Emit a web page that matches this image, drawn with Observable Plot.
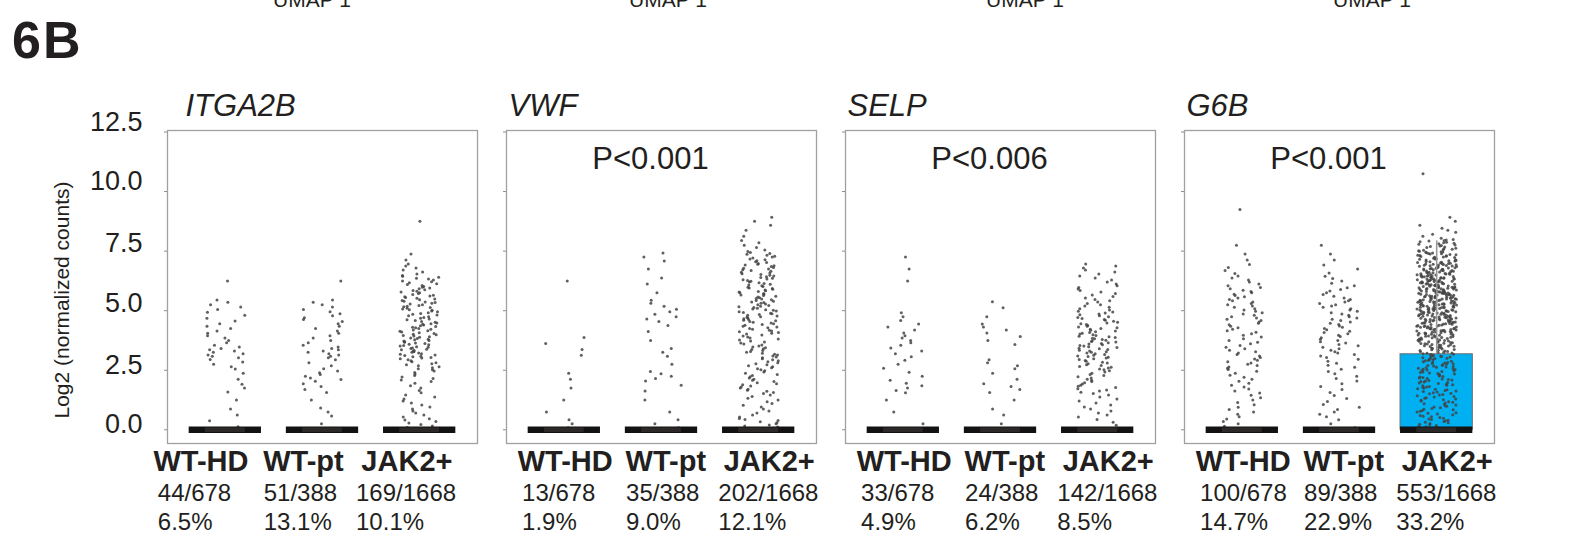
<!DOCTYPE html>
<html>
<head>
<meta charset="utf-8">
<script src="https://cdn.jsdelivr.net/npm/d3@7"></script>
<script src="https://cdn.jsdelivr.net/npm/@observablehq/plot@0.6"></script>
<style>
  html, body { margin: 0; padding: 0; background: #fff; }
  body { font-family: "Liberation Sans", Arial, Helvetica, sans-serif; color: #231f20; }
  #wrap { position: relative; width: 1585px; height: 536px; overflow: hidden; }
  #head { position: relative; width: 1585px; height: 80px; }
  .umap { position: absolute; top: -11px; font-size: 21px; line-height: 1; white-space: nowrap; }
  #panel { position: absolute; left: 12px; top: 14px; font-size: 52px; line-height: 1; font-weight: bold; letter-spacing: 2px; }
  #chart svg { display: block; }
</style>
</head>
<body>
<div id="wrap">
  <div id="head">
    <div class="umap" style="left:273px">UMAP 1</div>
    <div class="umap" style="left:629px">UMAP 1</div>
    <div class="umap" style="left:986px">UMAP 1</div>
    <div class="umap" style="left:1333px">UMAP 1</div>
    <div id="panel">6B</div>
  </div>
  <div id="chart"></div>
</div>
<script>
// ---------------- data ----------------
const genes = ["ITGA2B", "VWF", "SELP", "G6B"];
const groups = ["WT-HD", "WT-pt", "JAK2+"];
const pValues = ["", "P<0.001", "P<0.006", "P<0.001"];
const groupTotals = [678, 388, 1668];

const positiveITGA2B = [44, 51, 169];
const positiveVWF = [13, 35, 202];
const positiveSELP = [33, 24, 142];
const positiveG6B = [100, 89, 553];

const percentITGA2B = ["6.5%", "13.1%", "10.1%"];
const percentVWF = ["1.9%", "9.0%", "12.1%"];
const percentSELP = ["4.9%", "6.2%", "8.5%"];
const percentG6B = ["14.7%", "22.9%", "33.2%"];

const yTicks = [0, 2.5, 5, 7.5, 10, 12.5];

// counts of positive cells per 0.5 log2-unit bin, starting at 0
const binWidth = 0.5;
const binsITGA2B_WTHD = [2, 2, 1, 3, 2, 5, 9, 5, 5, 4, 5, 0, 1];
const binsITGA2B_WTpt = [1, 3, 1, 4, 7, 4, 9, 5, 5, 6, 5, 0, 1];
const binsITGA2B_JAK2 = [8, 6, 6, 5, 8, 12, 19, 19, 17, 15, 17, 15, 13, 6, 2, 0, 0, 1];
const binsVWF_WTHD = [3, 1, 1, 1, 2, 0, 2, 2, 0, 0, 0, 0, 1];
const binsVWF_WTpt = [3, 1, 1, 2, 5, 1, 3, 1, 2, 5, 4, 1, 2, 1, 3];
const binsVWF_JAK2 = [11, 6, 7, 11, 10, 12, 13, 12, 15, 17, 17, 17, 16, 15, 13, 5, 2, 3];
const binsSELP_WTHD = [1, 1, 1, 5, 3, 3, 4, 5, 4, 3, 0, 0, 1, 1, 1];
const binsSELP_WTpt = [1, 2, 1, 4, 2, 4, 0, 3, 4, 1, 2];
const binsSELP_JAK2 = [4, 6, 6, 10, 10, 14, 17, 18, 15, 13, 9, 8, 6, 6];
const binsG6B_WTHD = [5, 5, 5, 6, 6, 9, 8, 7, 8, 9, 9, 9, 6, 4, 2, 1, 0, 0, 1];
const binsG6B_WTpt = [3, 5, 4, 4, 5, 6, 8, 9, 9, 9, 9, 7, 5, 3, 2, 1];
const binsG6B_JAK2 = [18, 17, 18, 21, 24, 27, 30, 38, 44, 48, 52, 54, 51, 45, 34, 22, 6, 3, 0, 0, 0, 1];

// box plot statistics (rows follow genes, columns follow groups)
const boxMedian = [[0, 0, 0], [0, 0, 0], [0, 0, 0], [0, 0, 0]];
const boxQ1 = [[0, 0, 0], [0, 0, 0], [0, 0, 0], [0, 0, 0]];
const boxQ3 = [[0, 0, 0], [0, 0, 0], [0, 0, 0], [0, 0, 3.17]];
const boxUpperWhisker = [[0, 0, 0], [0, 0, 0], [0, 0, 0], [0, 0, 7.93]];

// ---------------- assembly ----------------
const binsByGene = [
  [binsITGA2B_WTHD, binsITGA2B_WTpt, binsITGA2B_JAK2],
  [binsVWF_WTHD, binsVWF_WTpt, binsVWF_JAK2],
  [binsSELP_WTHD, binsSELP_WTpt, binsSELP_JAK2],
  [binsG6B_WTHD, binsG6B_WTpt, binsG6B_JAK2]
];
const positivesByGene = [positiveITGA2B, positiveVWF, positiveSELP, positiveG6B];
const percentsByGene = [percentITGA2B, percentVWF, percentSELP, percentG6B];

// deterministic horizontal jitter (layout only)
function jitter(i) {
  const s = Math.sin(i * 127.1 + 311.7) * 43758.5453;
  return (s - Math.floor(s)) * 2 - 1;
}
const JIT = 0.205;

const points = [];
let counter = 0;
genes.forEach((gene, gi) => {
  groups.forEach((group, k) => {
    binsByGene[gi][k].forEach((c, b) => {
      for (let j = 0; j < c; j++) {
        points.push({ gene, group, k, y: b * binWidth + (j + 0.5) / c * binWidth, jx: jitter(counter++) });
      }
    });
  });
});

const boxes = [];
const labels = [];
genes.forEach((gene, gi) => {
  groups.forEach((group, k) => {
    boxes.push({ gene, k, median: boxMedian[gi][k], q1: boxQ1[gi][k], q3: boxQ3[gi][k], hi: boxUpperWhisker[gi][k] });
    labels.push({ gene, k, group, frac: `${positivesByGene[gi][k]}/${groupTotals[k]}`, pct: percentsByGene[gi][k] });
  });
});
const pData = genes.map((gene, gi) => ({ gene, p: pValues[gi] })).filter(d => d.p);

// layout constants (pixels converted to x units, ~97.5 px per group)
const HALF = 0.372;        // half width of box / median bar
const MID = 0.205;         // lighter middle of the median bar
const boldStart = { "WT-HD": -0.48, "WT-pt": -0.37, "JAK2+": -0.36 };
const countStart = { "WT-HD": -0.435, "WT-pt": -0.365, "JAK2+": -0.415 };
const shiftFirst = d => d.gene === "ITGA2B" ? (d.group === "WT-HD" ? -0.26 : -0.24) : 0;

const txt = "#231f20";

// y tick labels sit slightly above their ticks, increasingly so toward the top
const tickLabel = (ticks, dy) => Plot.axisY({ ticks, tickSize: 0, tickPadding: 25, tickFormat: d => d.toFixed(1),
  fontSize: 27, dy, label: null, fill: txt });

const chart = Plot.plot({
  width: 1585,
  height: 456,
  marginLeft: 165,
  marginRight: 89,
  marginTop: 50,
  marginBottom: 93,
  style: { fontFamily: "'Liberation Sans', Arial, Helvetica, sans-serif", color: txt, background: "#fff", overflow: "visible" },
  fx: { domain: genes, paddingInner: 0.085, paddingOuter: 0, axis: null, label: null },
  x: { domain: [-0.595, 2.595], axis: null },
  y: { domain: [-0.575, 12.563], axis: null },
  marks: [
    Plot.frame({ stroke: "#a0a0a0", strokeWidth: 1.3 }),
    Plot.axisY({ ticks: yTicks, tickSize: 3, tickFormat: () => "", facetAnchor: null, stroke: "#8c8c8c", label: null }),
    tickLabel(yTicks.filter(t => t >= 10), -10),
    tickLabel(yTicks.filter(t => t >= 5 && t < 10), -7.5),
    tickLabel(yTicks.filter(t => t < 5), -5),
    Plot.text([{ gene: "ITGA2B", t: "Log2 (normalized counts)" }], {
      fx: "gene", text: "t", frameAnchor: "left", textAnchor: "middle", lineAnchor: "middle",
      rotate: -90, dx: -105, dy: 13, fontSize: 21, fill: txt
    }),
    // gene titles
    Plot.text(genes, { fx: d => d, text: d => d, frameAnchor: "top-left", textAnchor: "start", lineAnchor: "middle",
      dx: 2, dy: -24, fontSize: 31, fontStyle: "italic", fill: txt, filter: d => d !== "ITGA2B" }),
    Plot.text(genes, { fx: d => d, text: d => d, frameAnchor: "top-left", textAnchor: "start", lineAnchor: "middle",
      dx: 18, dy: -24, fontSize: 31, fontStyle: "italic", fill: txt, filter: d => d === "ITGA2B" }),
    // p-values
    Plot.text(pData, { fx: "gene", x: () => groups.indexOf("WT-pt"), text: "p", frameAnchor: "top", lineAnchor: "middle",
      dx: -11, dy: 29, fontSize: 31, fill: txt }),
    // boxes
    Plot.rect(boxes.filter(d => d.q3 > d.q1), { fx: "gene", x1: d => d.k - HALF, x2: d => d.k + HALF, y1: "q1", y2: "q3",
      fill: "#00b0f0", stroke: "#6e6e6e", strokeWidth: 1 }),
    // jittered cells
    Plot.dot(points, { fx: "gene", x: d => d.k + d.jx * JIT, y: "y", r: 1.5, fill: "#444", fillOpacity: 0.85, stroke: null }),
    // whiskers
    Plot.ruleX(boxes.filter(d => d.hi > d.q3), { fx: "gene", x: "k", y1: "q3", y2: "hi", stroke: "#959595", strokeWidth: 1.5 }),
    // medians
    Plot.ruleY(boxes, { fx: "gene", y: "median", x1: d => d.k - HALF, x2: d => d.k + HALF, stroke: "#121212", strokeWidth: 6.5 }),
    Plot.ruleY(boxes, { fx: "gene", y: "median", x1: d => d.k - MID, x2: d => d.k + MID, stroke: "#2c2828", strokeWidth: 4.5 }),
    // group labels below the frames
    Plot.text(labels, { fx: "gene", x: d => d.k + boldStart[d.group] + shiftFirst(d), text: "group", frameAnchor: "bottom",
      textAnchor: "start", lineAnchor: "middle", dy: 18, fontSize: 29, fontWeight: "bold", fill: txt }),
    Plot.text(labels, { fx: "gene", x: d => d.k + countStart[d.group] + shiftFirst(d), text: "frac", frameAnchor: "bottom",
      textAnchor: "start", lineAnchor: "middle", dy: 49.5, fontSize: 24, fill: txt }),
    Plot.text(labels, { fx: "gene", x: d => d.k + countStart[d.group] + shiftFirst(d), text: "pct", frameAnchor: "bottom",
      textAnchor: "start", lineAnchor: "middle", dy: 79, fontSize: 24, fill: txt })
  ]
});
document.getElementById("chart").appendChild(chart);
</script>
</body>
</html>
